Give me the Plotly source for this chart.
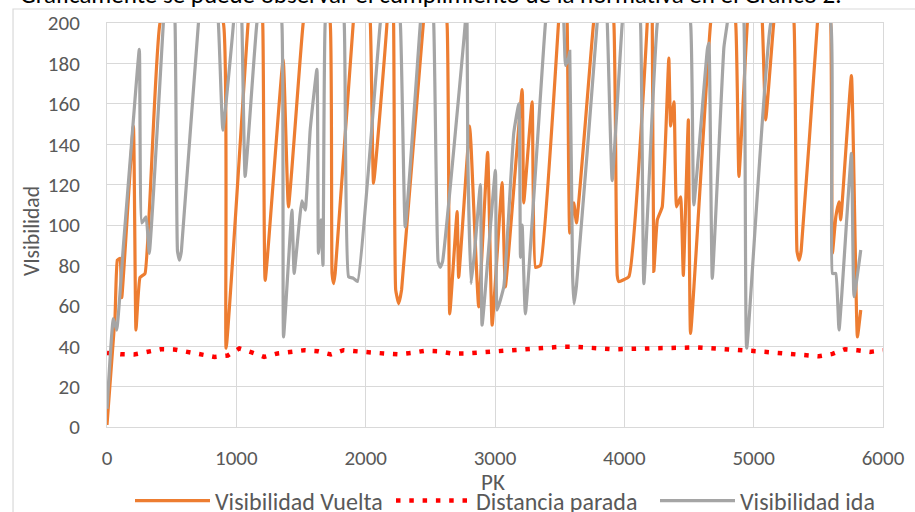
import plotly.graph_objects as go

# ---------------- data ----------------
pk_vuelta = [0, 62, 80, 101, 114, 204, 224, 255, 294, 410, 650, 900, 921, 1091, 1150, 1204, 1223,
             1362, 1403, 1517, 1620, 1726, 1740, 1752, 1764, 1904, 1970, 2036, 2061, 2165, 2190, 2216,
             2232, 2255, 2278, 2446, 2540, 2629, 2650, 2707, 2719, 2804, 2815, 2874, 2943, 2978, 3055,
             3080, 3210, 3222, 3287, 3313, 3351, 3491, 3525, 3558, 3578, 3609, 3630, 3762, 3840, 3919,
             3945, 3957, 4035, 4177, 4195, 4216, 4228, 4255, 4293, 4344, 4358, 4384, 4404, 4435, 4456,
             4495, 4512, 4667, 4760, 4861, 4886, 4951, 5010, 5067, 5093, 5155, 5230, 5312, 5335, 5351,
             5367, 5493, 5545, 5596, 5609, 5635, 5660, 5673, 5756, 5802, 5828]
vis_vuelta = [1, 54.5, 82.6, 83.5, 64, 149, 48, 74, 76, 200, 240, 200, 39, 200, 240, 200, 72.6,
              182, 109, 200, 240, 200, 76, 71, 76, 200, 240, 200, 120.7, 200, 240, 200,
              68, 61, 68, 200, 240, 200, 56, 106.6, 74, 149, 139, 59.5, 136, 50.4, 121,
              69.4, 167, 111, 161, 79, 80, 200, 240, 200, 96, 111, 101, 200, 240, 200,
              75, 72, 74.4, 200, 240, 200, 77, 102.5, 109, 182.6, 149, 161, 109, 114, 75,
              152, 46.3, 200, 240, 200, 124, 200, 240, 200, 152, 200, 240, 200, 87, 82.6,
              87, 200, 240, 200, 86, 104, 111.5, 102.5, 174, 44.6, 57.9]

pk_ida = [0, 49, 75, 126, 204, 250, 269, 302, 327, 436, 480, 526, 545, 560, 575, 707, 790, 861, 896,
          978, 1010, 1043, 1068, 1159, 1260, 1352, 1365, 1430, 1447, 1507, 1533, 1571, 1623, 1635,
          1654, 1670, 1687, 1760, 1834, 1868, 1906, 1937, 2113, 2190, 2268, 2306, 2423, 2475, 2526,
          2560, 2577, 2595, 2770, 2777, 2784, 2790, 2815, 2841, 2887, 2900, 3003, 3016, 3068, 3145,
          3184, 3197, 3210, 3235, 3390, 3460, 3532, 3545, 3570, 3578, 3600, 3611, 3630, 3790, 3830,
          3868, 3906, 3984, 4055, 4125, 4151, 4255, 4380, 4512, 4537, 4642, 4654, 4680, 4770, 4796,
          4860, 4925, 4946, 5132, 5360, 5596, 5609, 5635, 5660, 5756, 5776, 5828]
vis_ida = [9, 53.7, 48, 89, 152, 187, 101, 104, 86, 200, 240, 200, 87, 82.6, 87, 200, 240, 200, 147,
           200, 240, 200, 124, 200, 240, 200, 44.6, 107.4, 76, 112, 107.4, 147, 177, 86,
           102.5, 80, 200, 240, 200, 74.4, 73.6, 72, 200, 240, 200, 99, 200, 240, 200,
           82, 79, 82, 200, 210, 200, 132, 71, 86, 120, 50.4, 127, 57.9, 69.4, 145.5,
           160, 84, 100, 56, 200, 240, 200, 179, 183, 186, 75, 61, 70, 200, 240,
           200, 122, 200, 240, 200, 71, 200, 240, 200, 110, 187, 190, 73.6, 188, 200,
           240, 200, 39, 200, 240, 200, 76, 76, 48, 135.5, 64.5, 87.6]

pk_parada = [0, 106, 209, 315, 416, 521, 625, 728, 831, 934, 1023, 1119, 1215, 1318, 1421, 1525, 1631,
             1731, 1829, 1937, 2041, 2144, 2247, 2353, 2456, 2564, 2668, 2771, 2874, 2982, 3088, 3191,
             3300, 3403, 3506, 3609, 3717, 3824, 3926, 4035, 4139, 4241, 4350, 4453, 4559, 4662, 4770,
             4874, 4982, 5085, 5188, 5294, 5397, 5505, 5609, 5707, 5803, 5900, 6000]
dist_parada = [36.7, 36, 35.9, 37.2, 38.5, 38.4, 37.2, 35.9, 34.7, 35.4, 38.9, 36.9, 34.7, 36.4, 37.2, 38,
               37.5, 35.9, 38, 37.7, 36.9, 36.4, 36, 36.7, 37.7, 37.5, 36.4, 36.4, 36.9, 37.2, 37.7,
               38.4, 39.2, 39.7, 39.7, 39.7, 39.2, 38.7, 38.5, 38.7, 38.9, 39.2, 39.5, 39.5, 39.4, 39,
               38.7, 38.4, 37.7, 37.2, 36.7, 36, 35.4, 35, 36.2, 38.5, 38, 37.2, 38]

x_ticks = [0, 1000, 2000, 3000, 4000, 5000, 6000]
y_ticks = [0, 20, 40, 60, 80, 100, 120, 140, 160, 180, 200]

names = ["Visibilidad Vuelta", "Distancia parada", "Visibilidad ida"]
x_title = "PK"
y_title = "VIsibilidad"
top_text = "Gráficamente se puede observar el cumplimiento de la normativa en el Gráfico 2."

# ---------------- figure ----------------
FONT = "Calibri, Carlito, Lato, sans-serif"
TXT = "#595959"
GRID = "#D9D9D9"
LEG_Y = (512 - 501) / 512

fig = go.Figure()
fig.add_trace(go.Scatter(x=pk_vuelta, y=vis_vuelta, mode="lines", name=names[0], legend="legend",
                         line=dict(color="#ED7D31", width=3.2, shape="spline", smoothing=0.35)))
fig.add_trace(go.Scatter(x=pk_parada, y=dist_parada, mode="lines", name=names[1], legend="legend",
                         line=dict(color="#FF0000", width=4.5, dash="4.5px,8.8px")))
fig.add_trace(go.Scatter(x=pk_ida, y=vis_ida, mode="lines", name=names[2], legend="legend2",
                         line=dict(color="#A5A5A5", width=3.2, shape="spline", smoothing=0.35)))

leg_common = dict(orientation="h", xref="container", yref="container", xanchor="left",
                  y=LEG_Y, yanchor="middle", font=dict(family=FONT, size=24, color=TXT),
                  itemwidth=75, bgcolor="rgba(0,0,0,0)", tracegroupgap=0)

fig.update_layout(
    width=915, height=512, autosize=False,
    margin=dict(l=107, r=32, t=23, b=85, autoexpand=False),
    paper_bgcolor="white", plot_bgcolor="white",
    font=dict(family=FONT, size=21, color=TXT),
    showlegend=True,
    legend=dict(x=130 / 915, entrywidth=171, **leg_common),
    legend2=dict(x=655 / 915, **leg_common),
    xaxis=dict(range=[0, 6000], tickvals=x_ticks, ticktext=[str(v) for v in x_ticks],
               showgrid=True, gridcolor=GRID, gridwidth=1, zeroline=False,
               showline=True, linecolor=GRID, linewidth=1, mirror=True,
               ticks="", ticklabelstandoff=12),
    yaxis=dict(range=[0, 200], tickvals=y_ticks, ticktext=[str(v) for v in y_ticks],
               showgrid=True, gridcolor=GRID, gridwidth=1, zeroline=False,
               showline=True, linecolor=GRID, linewidth=1, mirror=True,
               ticks="", ticklabelstandoff=22),
    shapes=[dict(type="rect", xref="paper", yref="paper", x0=-0.1211, x1=1.05, y0=-0.25, y1=1.0347,
                 line=dict(color=GRID, width=1.2), fillcolor="rgba(0,0,0,0)", layer="below")],
    annotations=[
        dict(text=top_text, xref="paper", yref="paper", x=-0.1147, y=(427 - 12) / 404,
             xanchor="left", yanchor="bottom", showarrow=False,
             font=dict(family=FONT, size=25, color="#000000")),
        dict(text=x_title, xref="paper", yref="paper", x=(493 - 107) / 776, y=(427 - 482) / 404,
             xanchor="center", yanchor="middle", showarrow=False,
             font=dict(family=FONT, size=23, color=TXT)),
        dict(text=y_title, xref="paper", yref="paper", x=(32 - 107) / 776, y=(427 - 231) / 404,
             xanchor="center", yanchor="middle", showarrow=False, textangle=-90,
             font=dict(family=FONT, size=21.5, color=TXT)),
    ],
)

fig.write_html("out.html", config={"displayModeBar": False},
               post_script="document.body.style.margin='0';document.body.style.overflow='hidden';")
